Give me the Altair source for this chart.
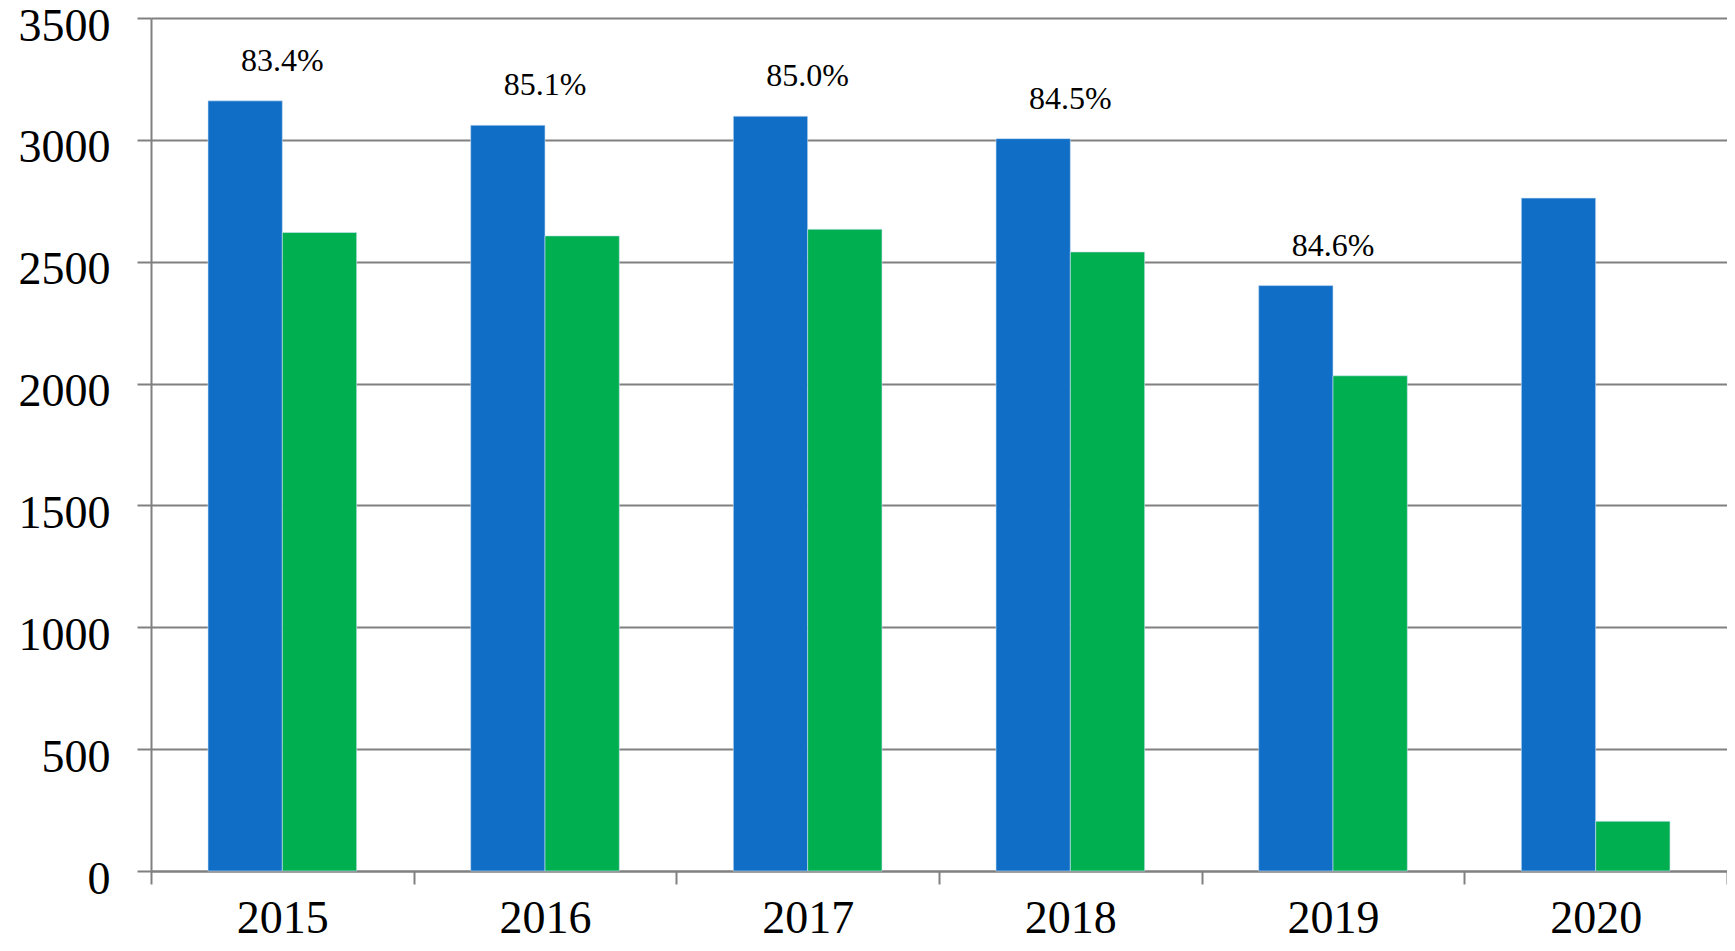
import altair as alt
import pandas as pd

years = ["2015", "2016", "2017", "2018", "2019", "2020"]
series_names = ["Series A", "Series B"]
blue_values = [3160, 3060, 3097, 3005, 2402, 2761]
green_values = [2620, 2606, 2633, 2540, 2032, 204]
pct_years = ["2015", "2016", "2017", "2018", "2019"]
pct_labels = ["83.4%", "85.1%", "85.0%", "84.5%", "84.6%"]
y_ticks = [0, 500, 1000, 1500, 2000, 2500, 3000, 3500]

FONT = "Liberation Serif"
BLUE = "#106EC6"
GREEN = "#00AF50"
GRAY = "#808080"

rows = []
for y, b, g in zip(years, blue_values, green_values):
    rows.append({"year": y, "series": series_names[0], "value": b})
    rows.append({"year": y, "series": series_names[1], "value": g})
df = pd.DataFrame(rows)

lab = pd.DataFrame({
    "year": pct_years,
    "label": pct_labels,
    "value": blue_values[: len(pct_years)],
})

x_scale = alt.Scale(domain=years, paddingInner=0, paddingOuter=0)
y_scale = alt.Scale(domain=[0, 3500], nice=False)

bars = alt.Chart(df).mark_bar(stroke="#cfe3f5", strokeWidth=0.6).encode(
    x=alt.X("year:N", scale=x_scale, sort=years,
            axis=alt.Axis(title=None, labelAngle=0, tickBand="extent", grid=False,
                          domain=True, domainColor=GRAY, domainWidth=2,
                          ticks=True, tickColor=GRAY, tickWidth=2, tickSize=13,
                          labelFont=FONT, labelFontSize=46, labelColor="black",
                          labelBaseline="alphabetic", labelPadding=48)),
    xOffset=alt.XOffset("series:N", sort=series_names,
                        scale=alt.Scale(paddingInner=0, paddingOuter=0.767)),
    y=alt.Y("value:Q", scale=y_scale,
            axis=alt.Axis(title=None, values=y_ticks, format="d", grid=True,
                          gridColor=GRAY, gridWidth=2, domain=True, domainColor=GRAY,
                          domainWidth=2, ticks=True, tickColor=GRAY, tickWidth=2,
                          tickSize=14, labelFont=FONT, labelFontSize=46,
                          labelColor="black", labelPadding=27, labelOffset=8)),
    color=alt.Color("series:N", scale=alt.Scale(domain=series_names, range=[BLUE, GREEN]),
                    legend=None),
)

texts = alt.Chart(lab).mark_text(font=FONT, fontSize=32, color="black",
                                 baseline="middle", dy=-40).encode(
    x=alt.X("year:N", scale=x_scale, sort=years),
    y=alt.Y("value:Q", scale=y_scale),
    text="label:N",
)

chart = alt.layer(bars, texts).properties(
    width=1576,
    height=853,
    autosize=alt.AutoSizeParams(type="none"),
    padding={"left": 143, "top": 10, "right": 0, "bottom": 72},
).configure_view(strokeWidth=0)

chart.save("out.html", embed_options={"renderer": "svg", "actions": False})
